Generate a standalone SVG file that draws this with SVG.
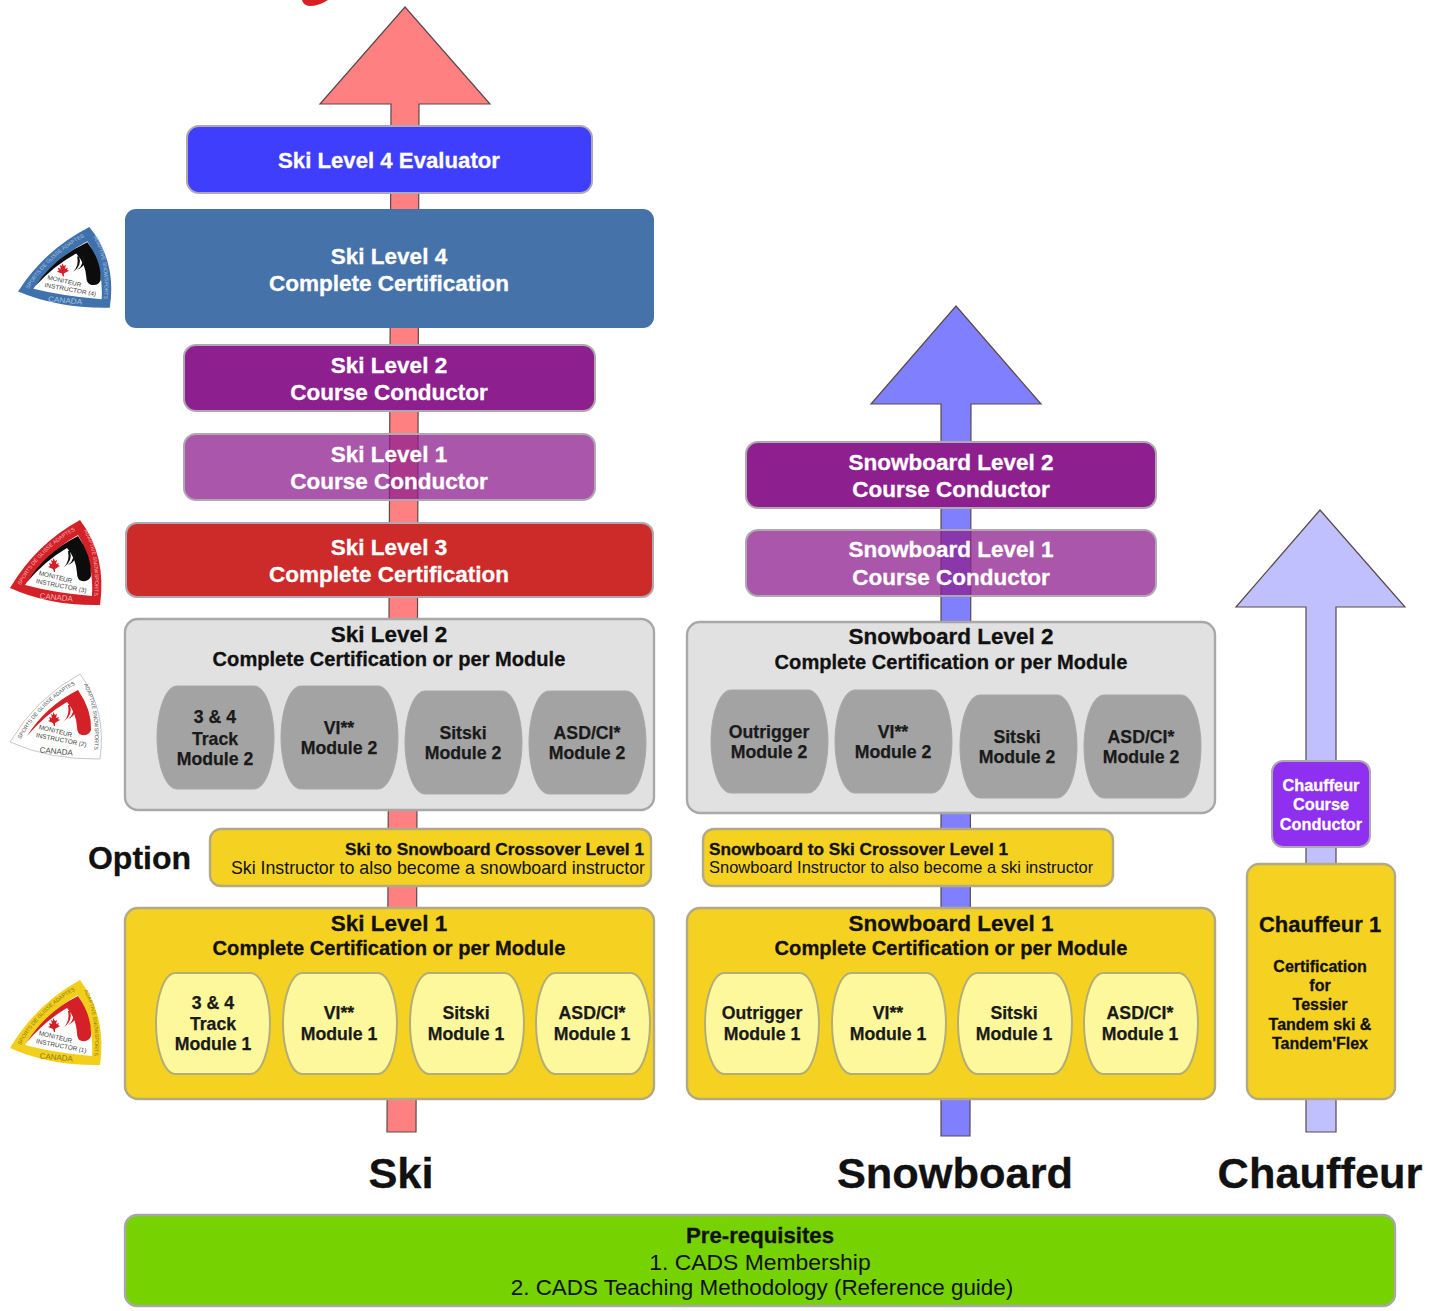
<svg xmlns="http://www.w3.org/2000/svg" width="1448" height="1311" viewBox="0 0 1448 1311">
<style>
text{font-family:"Liberation Sans",Arial,sans-serif;text-anchor:middle}
.b{font-weight:700}
.w{fill:#fff;stroke:#fff;stroke-width:.3}
.k{fill:#111}
.b.k,.t22.k,.t20.k{stroke:#111;stroke-width:.3}
.t22{font-size:22.5px;font-weight:700}
.t20{font-size:20.1px;font-weight:700}
.m{font-size:17.7px;font-weight:700;fill:#1a1a1a;stroke:#1a1a1a;stroke-width:.25}
.box{stroke:#b0a8b0;stroke-width:2}
.panel{stroke:#a8a8a8;stroke-width:2.4}
.ypanel{stroke:#b2aa84;stroke-width:2.4}
.gm{fill:#a3a3a3;stroke:#a8a8a8}
.ym{fill:#fdf89c;stroke:#b3ad78;stroke-width:2}
.yel{fill:#f5d122}
.arrow{stroke:#5a4a4a;stroke-width:1.2}
.bt{font-size:6.400px;fill:#444}
.bo{font-size:5.4px}
.bc{font-size:8px}
</style>
<defs>
<path id="mod" d="M20,0H97C109,0 117,26 117,51.500C117,77 109,103 97,103H20C8,103 0,77 0,51.500C0,26 8,0 20,0Z"/>
<path id="bOuter" d="M70,0Q97,36 90,85Q40,86 0,68Q26,24 70,0Z"/>
<path id="bInner" d="M68,15Q84,42 82,76Q45,73 15,65Q36,33 68,15Z"/>
<path id="bArc" d="M17,62Q36,32 68,16Q82,36 81,56Q79,62 72,61Q67,60 67,53Q66,38 57,28Q36,40 17,62Z"/>
<path id="bWave" d="M58,31Q60,41 54,47Q63,41 60,31ZM62,30Q66,39 58,45Q69,40 65,30Z"/>
<path id="bLeaf" d="M43,38l2,3 2,-1 -1,4 3,-1 -1,2 2,1 -5,3 0,3h-1l-1,-3 -5,-2 2,-1 -1,-3 3,1 -1,-4 2,1Z"/>
<path id="bL" d="M10,66Q31,29 66,10"/>
<path id="bR" d="M74,10Q88,40 84,76"/>
</defs>

<g id="connectors">
<path id="ski-arrow" class="arrow" fill="#ff8080" d="M405,7L490,104H419L416,1132H387L391,104H320Z"/>
<path id="snowboard-arrow" class="arrow" fill="#8080ff" d="M956,306L1041,404H971L970,1136H941L941,404H871Z"/>
<path id="chauffeur-arrow" class="arrow" fill="#c0c0ff" d="M1320,510L1405,607H1336V1132H1306V607H1236Z"/>
</g>

<path id="top-mark" fill="#d81f26" d="M302,0H328Q319,6 309,6Q303,5 302,0Z"/>

<g id="badge-l4" transform="translate(18,227) scale(1.02,.95)">
<use href="#bOuter" fill="#3f72ad"/><use href="#bInner" fill="#fff"/><use href="#bArc" fill="#0c0c0c"/><use href="#bWave" fill="#111"/><use href="#bLeaf" fill="#d5202a"/>
<text class="bo" fill="#a9c3de"><textPath href="#bL" startOffset="50%">SPORTS DE GLISSE ADAPTES</textPath></text>
<text class="bo" fill="#a9c3de"><textPath href="#bR" startOffset="50%">ADAPTIVE SNOWSPORTS</textPath></text>
<text class="bt" transform="translate(45,59) rotate(14)">MONITEUR</text><text class="bt" transform="translate(51,68) rotate(11)">INSTRUCTOR (4)</text>
<text class="bc" fill="#a9c3de" transform="translate(46,80) rotate(5)">CANADA</text>
</g>
<g id="badge-l3" transform="translate(10,520)">
<use href="#bOuter" fill="#d42027"/><use href="#bInner" fill="#fff"/><use href="#bArc" fill="#0c0c0c"/><use href="#bWave" fill="#111"/><use href="#bLeaf" fill="#d5202a"/>
<text class="bo" fill="#f3b5b5"><textPath href="#bL" startOffset="50%">SPORTS DE GLISSE ADAPTES</textPath></text>
<text class="bo" fill="#f3b5b5"><textPath href="#bR" startOffset="50%">ADAPTIVE SNOWSPORTS</textPath></text>
<text class="bt" transform="translate(45,59) rotate(14)">MONITEUR</text><text class="bt" transform="translate(51,68) rotate(11)">INSTRUCTOR (3)</text>
<text class="bc" fill="#f3b5b5" transform="translate(46,80) rotate(5)">CANADA</text>
</g>
<g id="badge-l2" transform="translate(10,674)">
<use href="#bOuter" fill="#fff" stroke="#c8c8c8"/><use href="#bArc" fill="#d42027"/><use href="#bWave" fill="#d42027"/><use href="#bLeaf" fill="#d5202a"/>
<text class="bo" fill="#555"><textPath href="#bL" startOffset="50%">SPORTS DE GLISSE ADAPTES</textPath></text>
<text class="bo" fill="#555"><textPath href="#bR" startOffset="50%">ADAPTIVE SNOWSPORTS</textPath></text>
<text class="bt" transform="translate(45,59) rotate(14)">MONITEUR</text><text class="bt" transform="translate(51,68) rotate(11)">INSTRUCTOR (2)</text>
<text class="bc" fill="#444" transform="translate(46,80) rotate(5)">CANADA</text>
</g>
<g id="badge-l1" transform="translate(10,980)">
<use href="#bOuter" fill="#f2cf1d"/><use href="#bInner" fill="#fff"/><use href="#bArc" fill="#d42027"/><use href="#bWave" fill="#d42027"/><use href="#bLeaf" fill="#d5202a"/>
<text class="bo" fill="#8f7a10"><textPath href="#bL" startOffset="50%">SPORTS DE GLISSE ADAPTES</textPath></text>
<text class="bo" fill="#8f7a10"><textPath href="#bR" startOffset="50%">ADAPTIVE SNOWSPORTS</textPath></text>
<text class="bt" transform="translate(45,59) rotate(14)">MONITEUR</text><text class="bt" transform="translate(51,68) rotate(11)">INSTRUCTOR (1)</text>
<text class="bc" fill="#8f7a10" transform="translate(46,80) rotate(5)">CANADA</text>
</g>

<g id="ski-l4-evaluator"><rect class="box" x="187" y="126" width="405" height="67" rx="12" fill="#3e3efc"/><text class="t22 w" style="font-size:22.2px" x="389" y="168">Ski Level 4 Evaluator</text></g>
<g id="ski-l4"><rect x="125" y="209" width="529" height="119" rx="11" fill="#4672aa"/><text class="t22 w" x="389" y="264">Ski Level 4</text><text class="t22 w" x="389" y="291">Complete Certification</text></g>
<g id="ski-l2-cc"><rect class="box" x="184" y="345" width="411" height="66" rx="12" fill="#8e1f8f"/><text class="t22 w" x="389" y="373">Ski Level 2</text><text class="t22 w" x="389" y="400">Course Conductor</text></g>
<g id="ski-l1-cc"><rect class="box" x="184" y="434" width="411" height="66" rx="12" fill="#8e1f8f" fill-opacity=".75"/><text class="t22 w" x="389" y="462">Ski Level 1</text><text class="t22 w" x="389" y="489">Course Conductor</text></g>
<g id="ski-l3"><rect class="box" x="126" y="523" width="527" height="74" rx="11" fill="#cd2a2a"/><text class="t22 w" x="389" y="555">Ski Level 3</text><text class="t22 w" x="389" y="582">Complete Certification</text></g>

<g id="ski-l2">
<rect class="panel" x="125" y="619" width="529" height="191" rx="13" fill="#e1e1e1"/>
<text class="t22 k" x="389" y="642">Ski Level 2</text><text class="t20 k" x="389" y="666">Complete Certification or per Module</text>
<use class="gm" href="#mod" x="157" y="686"/><use class="gm" href="#mod" x="281" y="686"/><use class="gm" href="#mod" x="405" y="691"/><use class="gm" href="#mod" x="529" y="691"/>
<text class="m" x="215" y="723">3 &amp; 4</text><text class="m" x="215" y="745">Track</text><text class="m" x="215" y="765">Module 2</text>
<text class="m" x="339" y="734">VI**</text><text class="m" x="339" y="754">Module 2</text>
<text class="m" x="463" y="739">Sitski</text><text class="m" x="463" y="759">Module 2</text>
<text class="m" x="587" y="739">ASD/CI*</text><text class="m" x="587" y="759">Module 2</text>
</g>

<text id="option-label" class="b k" x="139.500" y="869" font-size="32">Option</text>
<g id="ski-crossover"><rect class="ypanel yel" x="210" y="829" width="441" height="57" rx="11"/>
<text class="b k" style="text-anchor:end" x="644" y="855" font-size="17.250">Ski to Snowboard Crossover Level 1</text>
<text class="k" style="text-anchor:end" x="645" y="874" font-size="17.800">Ski Instructor to also become a snowboard instructor</text></g>

<g id="ski-l1">
<rect class="ypanel yel" x="125" y="908" width="529" height="191" rx="13"/>
<text class="t22 k" x="389" y="931">Ski Level 1</text><text class="t20 k" x="389" y="955">Complete Certification or per Module</text>
<use class="ym" href="#mod" transform="translate(156,973) scale(.974,.98)"/><use class="ym" href="#mod" transform="translate(283,973) scale(.974,.98)"/><use class="ym" href="#mod" transform="translate(410,973) scale(.974,.98)"/><use class="ym" href="#mod" transform="translate(536,973) scale(.974,.98)"/>
<text class="m" x="213" y="1009">3 &amp; 4</text><text class="m" x="213" y="1030">Track</text><text class="m" x="213" y="1050">Module 1</text>
<text class="m" x="339" y="1019">VI**</text><text class="m" x="339" y="1040">Module 1</text>
<text class="m" x="466" y="1019">Sitski</text><text class="m" x="466" y="1040">Module 1</text>
<text class="m" x="592" y="1019">ASD/CI*</text><text class="m" x="592" y="1040">Module 1</text>
</g>

<g id="sb-l2-cc"><rect class="box" x="746" y="442" width="410" height="66" rx="12" fill="#8e1f8f"/><text class="t22 w" x="951" y="470">Snowboard Level 2</text><text class="t22 w" x="951" y="497">Course Conductor</text></g>
<g id="sb-l1-cc"><rect class="box" x="746" y="530" width="410" height="66" rx="12" fill="#8e1f8f" fill-opacity=".75"/><text class="t22 w" x="951" y="557">Snowboard Level 1</text><text class="t22 w" x="951" y="585">Course Conductor</text></g>

<g id="sb-l2">
<rect class="panel" x="687" y="622" width="528" height="191" rx="13" fill="#e1e1e1"/>
<text class="t22 k" x="951" y="644">Snowboard Level 2</text><text class="t20 k" x="951" y="669">Complete Certification or per Module</text>
<use class="gm" href="#mod" x="711" y="690"/><use class="gm" href="#mod" x="835" y="690"/><use class="gm" href="#mod" x="960" y="695"/><use class="gm" href="#mod" x="1084" y="695"/>
<text class="m" x="769" y="738">Outrigger</text><text class="m" x="769" y="758">Module 2</text>
<text class="m" x="893" y="738">VI**</text><text class="m" x="893" y="758">Module 2</text>
<text class="m" x="1017" y="743">Sitski</text><text class="m" x="1017" y="763">Module 2</text>
<text class="m" x="1141" y="743">ASD/CI*</text><text class="m" x="1141" y="763">Module 2</text>
</g>

<g id="sb-crossover"><rect class="ypanel yel" x="703" y="829" width="410" height="57" rx="11"/>
<text class="b k" style="text-anchor:start" x="709" y="855" font-size="17.250">Snowboard to Ski Crossover Level 1</text>
<text class="k" style="text-anchor:start" x="709" y="873" font-size="16.500">Snowboard Instructor to also become a ski instructor</text></g>

<g id="sb-l1">
<rect class="ypanel yel" x="687" y="908" width="528" height="191" rx="13"/>
<text class="t22 k" x="951" y="931">Snowboard Level 1</text><text class="t20 k" x="951" y="955">Complete Certification or per Module</text>
<use class="ym" href="#mod" transform="translate(705,973) scale(.974,.98)"/><use class="ym" href="#mod" transform="translate(832,973) scale(.974,.98)"/><use class="ym" href="#mod" transform="translate(958,973) scale(.974,.98)"/><use class="ym" href="#mod" transform="translate(1084,973) scale(.974,.98)"/>
<text class="m" x="762" y="1019">Outrigger</text><text class="m" x="762" y="1040">Module 1</text>
<text class="m" x="888" y="1019">VI**</text><text class="m" x="888" y="1040">Module 1</text>
<text class="m" x="1014" y="1019">Sitski</text><text class="m" x="1014" y="1040">Module 1</text>
<text class="m" x="1140" y="1019">ASD/CI*</text><text class="m" x="1140" y="1040">Module 1</text>
</g>

<g id="chauffeur-cc"><rect class="box" x="1272" y="761" width="98" height="86" rx="11" fill="#8f2ff0"/>
<text class="b w" font-size="16.300" x="1321" y="791">Chauffeur</text><text class="b w" font-size="16.300" x="1321" y="810">Course</text><text class="b w" font-size="16.300" x="1321" y="830">Conductor</text></g>
<g id="chauffeur-1"><rect class="ypanel yel" x="1247" y="864" width="148" height="235" rx="12"/>
<text class="b k" font-size="22" x="1320" y="932">Chauffeur 1</text>
<text class="b k" font-size="16" x="1320" y="972">Certification</text><text class="b k" font-size="16" x="1320" y="991">for</text><text class="b k" font-size="16" x="1320" y="1010">Tessier</text><text class="b k" font-size="16" x="1320" y="1030">Tandem ski &amp;</text><text class="b k" font-size="16" x="1320" y="1049">Tandem'Flex</text></g>

<g id="column-labels">
<text class="b k" font-size="43.400" x="401" y="1188">Ski</text>
<text class="b k" font-size="43.400" x="955" y="1188">Snowboard</text>
<text class="b k" font-size="43.400" x="1320" y="1188">Chauffeur</text>
</g>

<g id="prerequisites"><rect class="panel" x="125" y="1215" width="1270" height="91" rx="12" fill="#76d200"/>
<text class="b k" font-size="22.200" x="760" y="1243">Pre-requisites</text>
<text class="k" font-size="22.900" x="760" y="1270">1. CADS Membership</text>
<text class="k" font-size="22.400" x="762" y="1295">2. CADS Teaching Methodology (Reference guide)</text></g>
</svg>
